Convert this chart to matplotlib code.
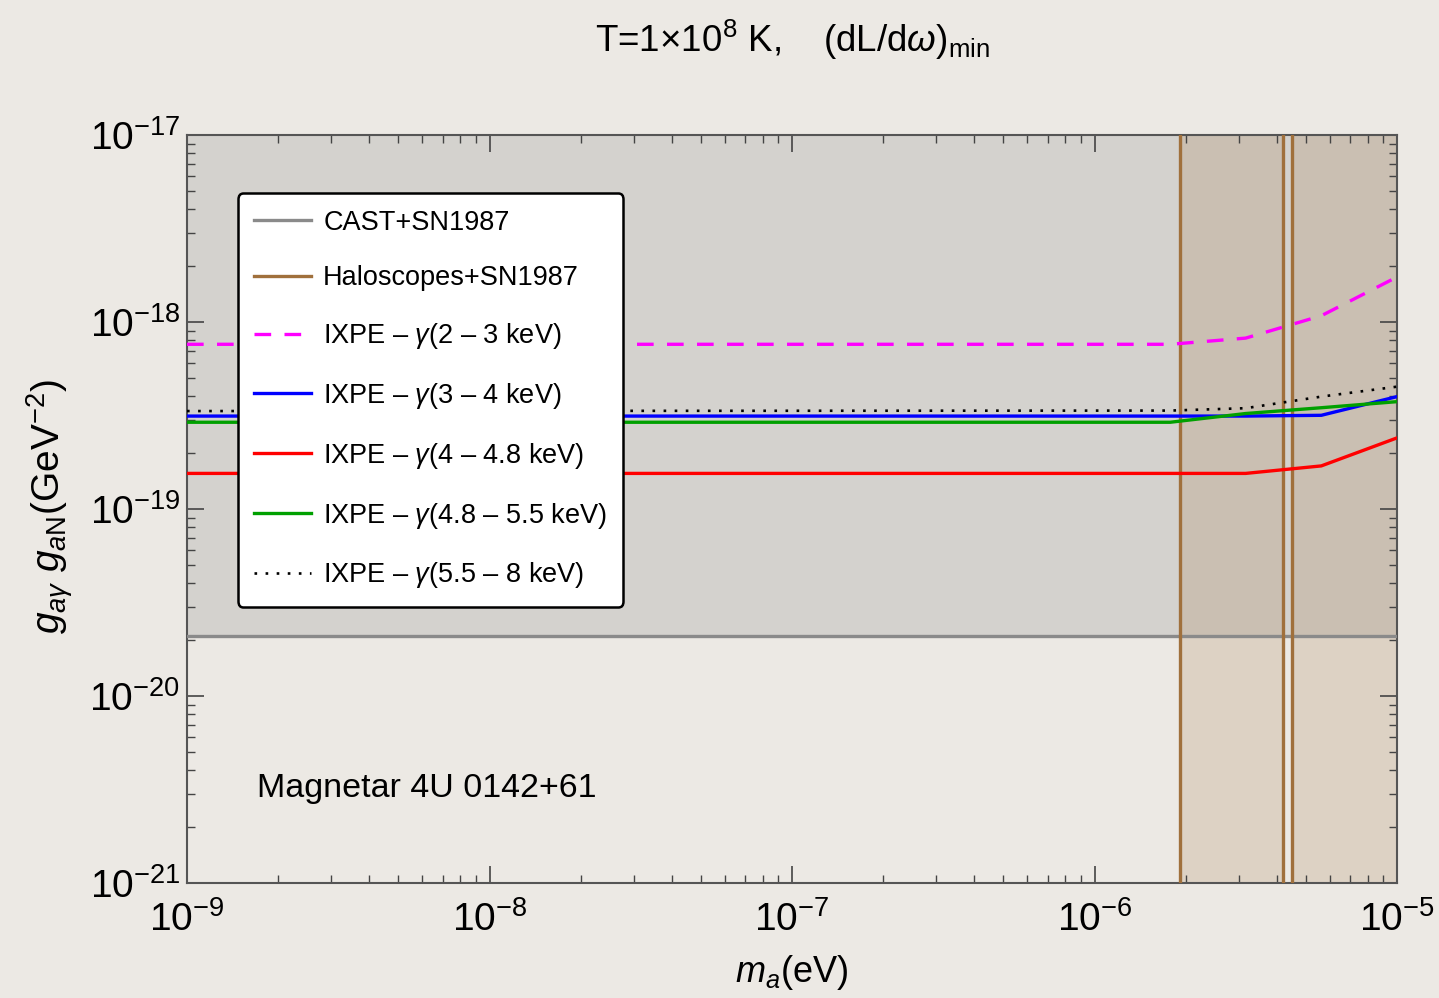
import numpy as np
import matplotlib.pyplot as plt
from matplotlib.ticker import LogLocator, NullFormatter

plt.rcParams['font.family'] = ['Liberation Sans', 'DejaVu Sans']
plt.rcParams['mathtext.fontset'] = 'custom'
plt.rcParams['mathtext.rm'] = 'Liberation Sans'
plt.rcParams['mathtext.it'] = 'Liberation Sans:italic'
plt.rcParams['mathtext.bf'] = 'Liberation Sans:bold'

# axion mass grid (eV) on which the IXPE bounds are given
ma = [1e-9, 1.78e-6, 3.16e-6, 5.62e-6, 1e-5]

# IXPE bounds on g_ag * g_aN (GeV^-2), one per energy bin
ixpe_2_3 = [7.6e-19, 7.6e-19, 8.2e-19, 1.08e-18, 1.74e-18]
ixpe_3_4 = [3.14e-19, 3.14e-19, 3.14e-19, 3.17e-19, 3.99e-19]
ixpe_4_48 = [1.55e-19, 1.55e-19, 1.55e-19, 1.70e-19, 2.40e-19]
ixpe_48_55 = [2.91e-19, 2.91e-19, 3.24e-19, 3.48e-19, 3.75e-19]
ixpe_55_8 = [3.34e-19, 3.36e-19, 3.46e-19, 3.99e-19, 4.51e-19]

# other bounds
cast_sn = 2.09e-20
halo_edges = [1.92e-6, 4.2e-6, 4.5e-6]
halo_bands = [(1.92e-6, 4.2e-6), (4.5e-6, 1e-5)]

labels = ['IXPE – $\\gamma$(2 – 3 keV)', 'IXPE – $\\gamma$(3 – 4 keV)',
          'IXPE – $\\gamma$(4 – 4.8 keV)', 'IXPE – $\\gamma$(4.8 – 5.5 keV)',
          'IXPE – $\\gamma$(5.5 – 8 keV)']

paper = '#ece9e4'
brown = '#a0703c'

fig = plt.figure(figsize=(14.39, 9.98), dpi=100, facecolor=paper)
ax = fig.add_axes([187/1439, 1 - 883/998, 1210/1439, 748/998])
ax.set_facecolor(paper)
ax.set_xscale('log')
ax.set_yscale('log')
ax.set_xlim(1e-9, 1e-5)
ax.set_ylim(1e-21, 1e-17)

# excluded regions
ax.fill_between([1e-9, 1e-5], cast_sn, 1e-17, color='#777777', alpha=0.2, lw=0, zorder=1)
for lo, hi in halo_bands:
    ax.axvspan(lo, hi, color=brown, alpha=0.19, lw=0, zorder=1)

ax.axhline(cast_sn, color='#8a8a8a', lw=2.4, zorder=3, label='CAST+SN1987')
for i, xe in enumerate(halo_edges):
    ax.axvline(xe, color=brown, lw=2.4, zorder=3,
               label='Haloscopes+SN1987' if i == 0 else None)

ax.plot(ma, ixpe_2_3, color='#ff00ff', lw=2.4, ls=(0, (5, 4)), zorder=4, label=labels[0])
ax.plot(ma, ixpe_3_4, color='#0000ff', lw=2.4, zorder=4, label=labels[1])
ax.plot(ma, ixpe_4_48, color='#ff0000', lw=2.4, zorder=4, label=labels[2])
ax.plot(ma, ixpe_48_55, color='#00a000', lw=2.4, zorder=4, label=labels[3])
ax.plot(ma, ixpe_55_8, color='black', lw=1.9, ls=(0, (1, 3.2)), zorder=4, label=labels[4])

# ticks
for axis in (ax.xaxis, ax.yaxis):
    axis.set_major_locator(LogLocator(base=10, numticks=10))
    axis.set_minor_locator(LogLocator(base=10, subs=np.arange(2, 10), numticks=20))
    axis.set_minor_formatter(NullFormatter())
ax.tick_params(which='both', direction='in', top=True, right=True, color='#444444')
ax.tick_params(which='major', length=12, width=1.2, labelsize=28)
ax.tick_params(axis='x', which='major', pad=13)
ax.tick_params(axis='y', which='major', pad=5)
ax.tick_params(which='minor', length=6, width=1.0)
for s in ax.spines.values():
    s.set_color('#555555')
    s.set_linewidth(1.5)

ax.set_xlabel('$m_a$(eV)', fontsize=26)
ax.xaxis.label.set_va('center')
ax.xaxis.set_label_coords(0.5, -(972 - 883) / 748)
ax.set_ylabel('$g_{a\\gamma}\\ g_{a\\mathrm{N}}$(GeV$^{-2}$)', fontsize=28)
ax.yaxis.label.set_va('center')
ax.yaxis.set_label_coords(-(187 - 50) / 1210, 0.503)

fig.text(792/1439, 1 - 40/998, 'T=1$\\times$10$^{8}$ K,    (dL/d$\\omega$)$_{\\mathrm{min}}$',
         ha='center', va='center', fontsize=26.5)

ax.text(0.058, (883 - 788) / 748, 'Magnetar 4U 0142+61', transform=ax.transAxes,
        fontsize=24.5, va='center', ha='left')

leg = ax.legend(loc='upper left', bbox_to_anchor=(0.042, 0.922), borderaxespad=0,
                fontsize=19.5, frameon=True, fancybox=True, framealpha=1,
                edgecolor='black', labelspacing=1.1, handlelength=2.1,
                handletextpad=0.45, borderpad=0.6)
leg.get_frame().set_linewidth(1.8)
leg.set_zorder(6)

fig.savefig('out.png', dpi=100, facecolor=paper)
